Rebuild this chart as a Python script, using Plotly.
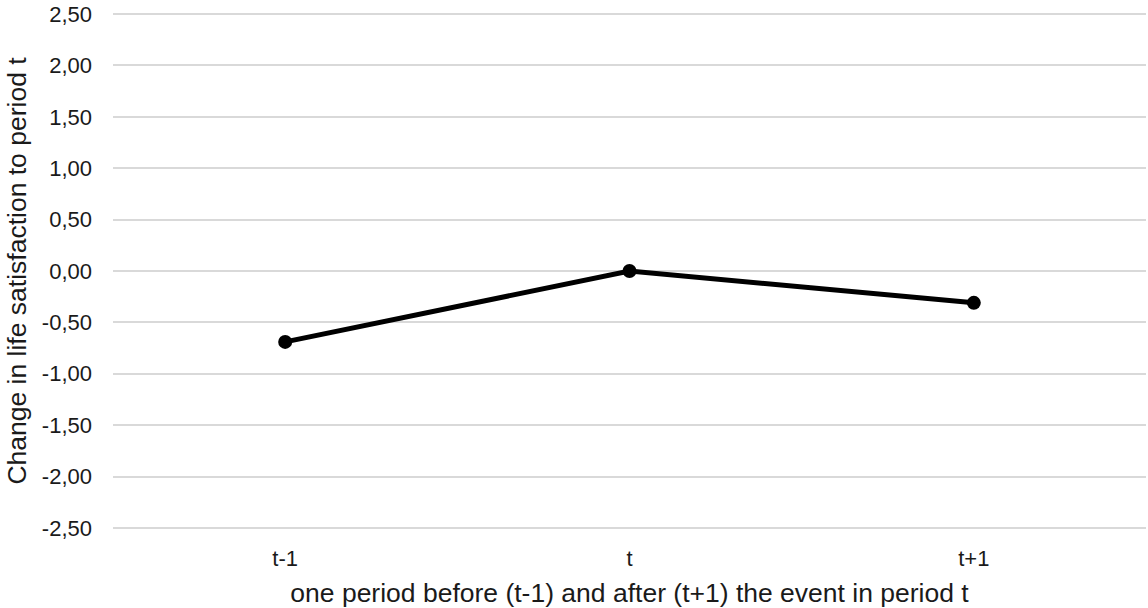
import plotly.graph_objects as go

categories = ["t-1", "t", "t+1"]
values = [-0.69, 0.0, -0.31]
y_ticks = [-2.5, -2.0, -1.5, -1.0, -0.5, 0.0, 0.5, 1.0, 1.5, 2.0, 2.5]
y_tick_labels = [f"{v:.2f}".replace(".", ",") for v in y_ticks]

fig = go.Figure()
fig.add_trace(go.Scatter(
    x=[0, 1, 2], y=values, mode="lines+markers",
    line=dict(color="black", width=5),
    marker=dict(color="black", size=14),
    showlegend=False,
))

font = "Liberation Sans, Arial, sans-serif"
fig.update_layout(
    width=1148, height=608,
    margin=dict(l=113, r=2, t=12, b=78, autoexpand=False),
    plot_bgcolor="white", paper_bgcolor="white",
    font=dict(family=font, color="#1a1a1a", size=22),
    xaxis=dict(
        tickvals=[0, 1, 2], ticktext=categories, range=[-0.5, 2.5],
        showgrid=False, zeroline=False, showline=False, ticks="",
        tickfont=dict(size=22, color="#1a1a1a"), ticklabelstandoff=13,
        automargin=False,
        title=dict(text="one period before (t-1) and after (t+1) the event in period t",
                   font=dict(size=26.5, color="#1a1a1a"), standoff=18),
    ),
    yaxis=dict(
        range=[-2.52, 2.52], tickvals=y_ticks, ticktext=y_tick_labels,
        showgrid=True, gridcolor="#d9d9d9", gridwidth=2,
        zeroline=False, showline=False, ticks="",
        tickfont=dict(size=22, color="#1a1a1a"), ticklabelstandoff=20,
        ticklabeloverflow="allow",
        automargin=False,
        title=dict(text="Change in life satisfaction to period t",
                   font=dict(size=26.5, color="#1a1a1a"), standoff=7),
    ),
)
fig.write_html("out.html", config={"displayModeBar": False},
               post_script="document.body.style.margin='0px';")
